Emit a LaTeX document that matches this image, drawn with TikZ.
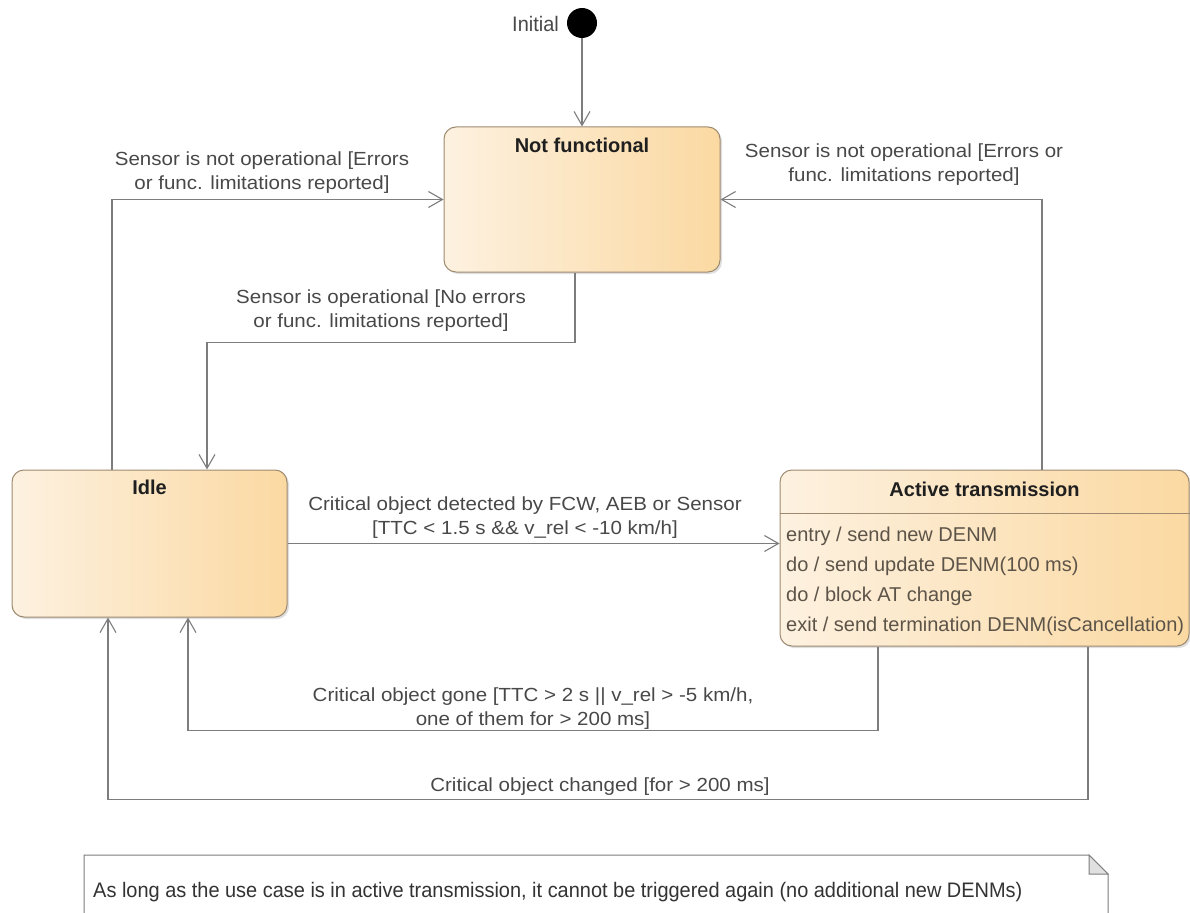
\documentclass[tikz,border=0pt]{standalone}
\usepackage{fontspec}
\setmainfont{Liberation Sans}
\newfontfamily\lblfont[FakeStretch=1.08]{Liberation Sans}
\newfontfamily\notefont[FakeStretch=0.95]{Liberation Sans}
\usetikzlibrary{arrows.meta,shadows}
\definecolor{stateLight}{RGB}{253,241,224}
\definecolor{stateDark}{RGB}{251,217,162}
\definecolor{stateLine}{RGB}{158,138,112}
\definecolor{transLine}{RGB}{125,125,125}
\definecolor{labelText}{RGB}{72,72,72}
\definecolor{actText}{RGB}{92,84,72}
\begin{document}
\begin{tikzpicture}[x=1pt,y=-1pt,
	state/.style={draw=stateLine, line width=1pt, rounded corners=12pt, left color=stateLight, right color=stateDark, drop shadow={opacity=0.25, shadow xshift=2pt, shadow yshift=-2pt}},
	statetitle/.style={font=\fontsize{20}{24}\selectfont\bfseries, text=black!88, inner sep=0pt, anchor=base},
	trans/.style={draw=transLine, line width=1.1pt, -{Straight Barb[length=14pt, width=16pt]}},
	lbl/.style={font=\lblfont\fontsize{19}{24}\selectfont, text=labelText, align=center, inner sep=0pt},
	actline/.style={font=\fontsize{20}{30}\selectfont, text=actText, anchor=base west, inner sep=0pt}]
	\useasboundingbox (0,0) rectangle (1190,912);
	\clip (0,0) rectangle (1190,912);
	% states
	\node[circle, fill=black, minimum size=30pt, inner sep=0pt] (init) at (582,23) {};
	\node[font=\notefont\fontsize{21}{24}\selectfont, text=labelText, anchor=base east, inner sep=0pt] (initlbl) at (559,32) {Initial};
	\node[state, minimum width=276pt, minimum height=145pt] (nf) at (582,199.5) {};
	\node[statetitle] (nftitle) at ([yshift=-26pt]nf.north) {Not functional};
	\node[state, minimum width=275pt, minimum height=147pt] (idle) at (149.5,543.5) {};
	\node[statetitle] (idletitle) at ([yshift=-25pt]idle.north) {Idle};
	\node[state, minimum width=409pt, minimum height=176pt] (act) at (984.5,558) {};
	\node[statetitle] (acttitle) at ([yshift=-27pt]act.north) {Active transmission};
	\draw[stateLine, line width=1pt] ([yshift=-44pt]act.north west) -- ([yshift=-44pt]act.north east);
	\foreach \txt [count=\i] in {{entry / send new DENM}, {do / send update DENM(100 ms)}, {do / block AT change}, {exit / send termination DENM(isCancellation)}}
		\node[actline] (act\i) at (786,{511+30*\i}) {\txt};
	% transitions
	\draw[trans] (init) -- (nf);
	\draw[trans] ([xshift=-37.5pt]idle.north) |- (nf.west);
	\draw[trans] ([xshift=57.5pt]act.north) |- (nf.east);
	\draw[trans] ([xshift=-7pt]nf.south) -- ++(0,70) -| ([xshift=57.5pt]idle.north);
	\draw[trans] (idle.east) -- (idle.east -| act.west);
	\draw[trans] ([xshift=-106.5pt]act.south) -- ++(0,84) -| ([xshift=38.5pt]idle.south);
	\draw[trans] ([xshift=103.5pt]act.south) -- ++(0,153) -| ([xshift=-41.5pt]idle.south);
	\node[lbl] (lblnotop1) at (262,173) {Sensor is not operational [Errors\\or func. limitations reported]};
	\node[lbl] (lblnotop2) at (904,165) {Sensor is not operational [Errors or\\func. limitations reported]};
	\node[lbl] (lblop) at (381,311) {Sensor is operational [No errors\\or func. limitations reported]};
	\node[lbl] (lbldetect) at (525,518) {Critical object detected by FCW, AEB or Sensor\\{}[TTC < 1.5 s \&\& v\_rel < -10 km/h]};
	\node[lbl] (lblgone) at (533,709) {Critical object gone [TTC > 2 s || v\_rel > -5 km/h,\\one of them for > 200 ms]};
	\node[lbl] (lblchanged) at (600,787) {Critical object changed [for > 200 ms]};
	% note
	\draw[transLine, line width=1pt, fill=white] (84,925) -- (84,855) -- (1089,855) -- (1108,874) -- (1108,925);
	\draw[transLine, line width=1pt, fill=black!12] (1089,855) -- (1089,874) -- (1108,874) -- cycle;
	\node[font=\notefont\fontsize{21}{24}\selectfont, text=black!80, anchor=base west, inner sep=0pt] (note) at (93,897) {As long as the use case is in active transmission, it cannot be triggered again (no additional new DENMs)};
\end{tikzpicture}
\end{document}
